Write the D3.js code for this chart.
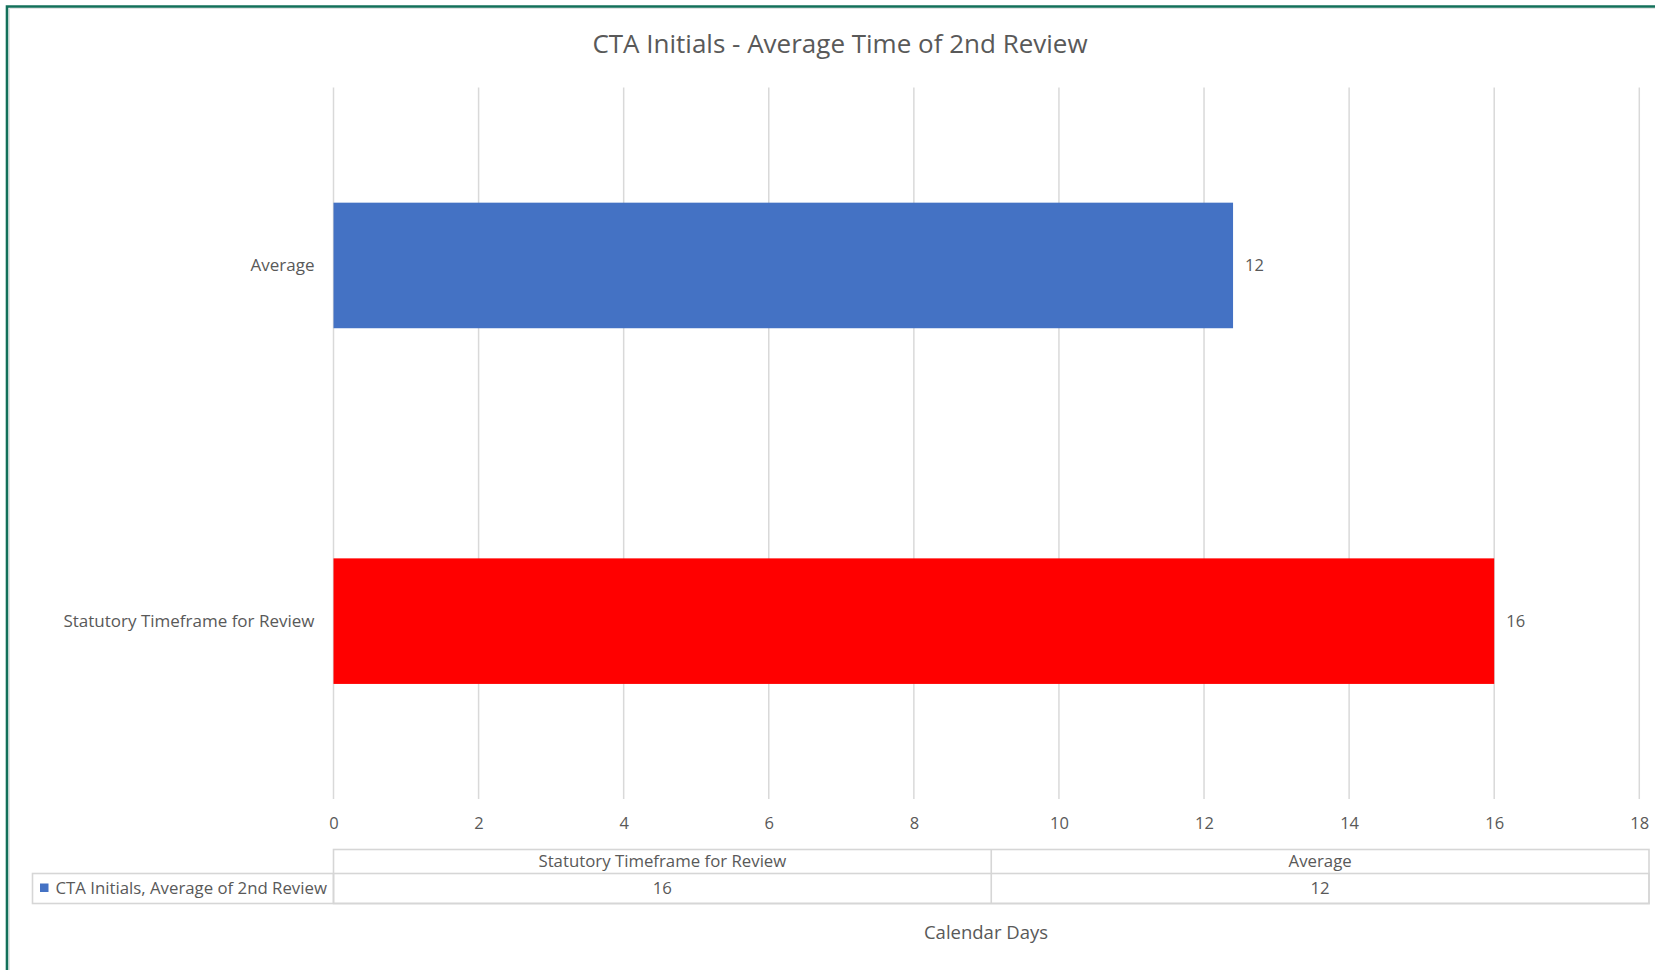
<!DOCTYPE html>
<html>
<head>
<meta charset="utf-8">
<script src="https://cdn.jsdelivr.net/npm/d3@7"></script>
<style>
  body { margin: 0; background: #ffffff; }
  text { font-family: "Open Sans", Lato, sans-serif; fill: #595959; }
</style>
</head>
<body>
<div id="chart"></div>
<script>
// chart values
const categories = ['Statutory Timeframe for Review', 'Average'];
const values = [16, 12.4];
const bar_colors = ['#FF0000', '#4472C4'];
const x_ticks = [0, 2, 4, 6, 8, 10, 12, 14, 16, 18];
const series_name = 'CTA Initials, Average of 2nd Review';
const chart_title = 'CTA Initials - Average Time of 2nd Review';
const axis_title = 'Calendar Days';

const width = 1655, height = 970;
const plot_left = 333.5, plot_right = 1639.3, plot_top = 87.6, plot_bottom = 799;

let svg = d3.select('#chart').append('svg')
    .attr('width', width)
    .attr('height', height);

svg.append('rect').attr('width', width).attr('height', height).attr('fill', '#fff');

// frame (cut at right and bottom in the original)
svg.append('path')
    .attr('d', 'M9.5,' + height + ' V8.5 H' + width)
    .attr('fill', 'none')
    .attr('stroke', '#e3e3e3')
    .attr('stroke-width', 1);
svg.append('path')
    .attr('d', 'M7,' + height + ' V6.5 H' + width)
    .attr('fill', 'none')
    .attr('stroke', '#13705a')
    .attr('stroke-width', 2.6);

let x = d3.scaleLinear().domain([0, 18]).range([plot_left, plot_right]);

// Excel draws the first category at the bottom
let y = d3.scaleBand()
    .domain(categories.slice().reverse())
    .range([plot_top, plot_bottom])
    .paddingInner(0.647)
    .paddingOuter(0.3235);

// title
svg.append('text')
    .attr('x', 840)
    .attr('y', 44)
    .attr('dy', '0.35em')
    .style('text-anchor', 'middle')
    .style('font-size', 26 + 'px')
    .text(chart_title);

// gridlines
svg.append('g').selectAll('line')
    .data(x_ticks)
    .join('line')
    .attr('x1', d => x(d))
    .attr('x2', d => x(d))
    .attr('y1', plot_top)
    .attr('y2', plot_bottom)
    .attr('stroke', '#d9d9d9')
    .attr('stroke-width', 1.5);

// x axis labels
let x_axis = svg.append('g')
    .attr('transform', 'translate(0,' + 817 + ')')
    .call(d3.axisBottom(x).tickValues(x_ticks).tickSize(0).tickPadding(0).tickFormat(d3.format('d')));
x_axis.select('.domain').remove();
x_axis.selectAll('text')
    .style('font-family', '"Open Sans", sans-serif')
    .style('font-size', 16.5 + 'px')
    .attr('fill', '#595959');

// bars
let rows = categories.map((c, i) => ({ category: c, value: values[i], color: bar_colors[i] }));

svg.append('g').selectAll('rect')
    .data(rows)
    .join('rect')
    .attr('x', x(0))
    .attr('y', d => y(d.category))
    .attr('width', d => x(d.value) - x(0))
    .attr('height', y.bandwidth())
    .attr('fill', d => d.color);

// data labels
svg.append('g').selectAll('text')
    .data(rows)
    .join('text')
    .attr('x', d => x(d.value) + 12)
    .attr('y', d => y(d.category) + y.bandwidth() / 2)
    .attr('dy', '0.35em')
    .style('font-size', 16.5 + 'px')
    .text(d => d3.format('.0f')(d.value));

// category labels
svg.append('g').selectAll('text')
    .data(categories)
    .join('text')
    .attr('x', 314.5)
    .attr('y', d => y(d) + y.bandwidth() / 2)
    .attr('dy', '0.35em')
    .style('text-anchor', 'end')
    .style('font-size', 17 + 'px')
    .text(d => d);

// data table
const table_left = 32.5, table_right = 1649;
const row1_top = 849.5, row2_top = 873.5, row_bottom = 903.5;
let col = d3.scaleBand().domain(categories).range([plot_left, table_right]);

let table = svg.append('g')
    .attr('fill', 'none')
    .attr('stroke', '#d6d6d6')
    .attr('stroke-width', 1.6);
table.append('rect')
    .attr('x', plot_left).attr('y', row1_top)
    .attr('width', table_right - plot_left).attr('height', row_bottom - row1_top);
table.append('rect')
    .attr('x', table_left).attr('y', row2_top)
    .attr('width', table_right - table_left).attr('height', row_bottom - row2_top);
table.selectAll('line.col')
    .data(categories.slice(1))
    .join('line')
    .attr('class', 'col')
    .attr('x1', d => col(d)).attr('x2', d => col(d))
    .attr('y1', row1_top).attr('y2', row_bottom);
table.append('line')
    .attr('x1', plot_left).attr('x2', plot_left)
    .attr('y1', row2_top).attr('y2', row_bottom);

svg.append('g').selectAll('text')
    .data(categories)
    .join('text')
    .attr('x', d => col(d) + col.bandwidth() / 2)
    .attr('y', (row1_top + row2_top) / 2)
    .attr('dy', '0.35em')
    .style('text-anchor', 'middle')
    .style('font-size', 16.8 + 'px')
    .text(d => d);

svg.append('g').selectAll('text')
    .data(rows)
    .join('text')
    .attr('x', d => col(d.category) + col.bandwidth() / 2)
    .attr('y', (row2_top + row_bottom) / 2)
    .attr('dy', '0.35em')
    .style('text-anchor', 'middle')
    .style('font-size', 16.8 + 'px')
    .text(d => d3.format('.0f')(d.value));

// legend key in the table
svg.append('rect')
    .attr('x', 40).attr('y', 883.5)
    .attr('width', 8.5).attr('height', 8.5)
    .attr('fill', '#4472C4');
svg.append('text')
    .attr('x', 55.5)
    .attr('y', (row2_top + row_bottom) / 2)
    .attr('dy', '0.35em')
    .style('font-size', 16.8 + 'px')
    .text(series_name);

// axis title
svg.append('text')
    .attr('x', 986)
    .attr('y', 933)
    .attr('dy', '0.35em')
    .style('text-anchor', 'middle')
    .style('font-size', 18.5 + 'px')
    .text(axis_title);
</script>
</body>
</html>
